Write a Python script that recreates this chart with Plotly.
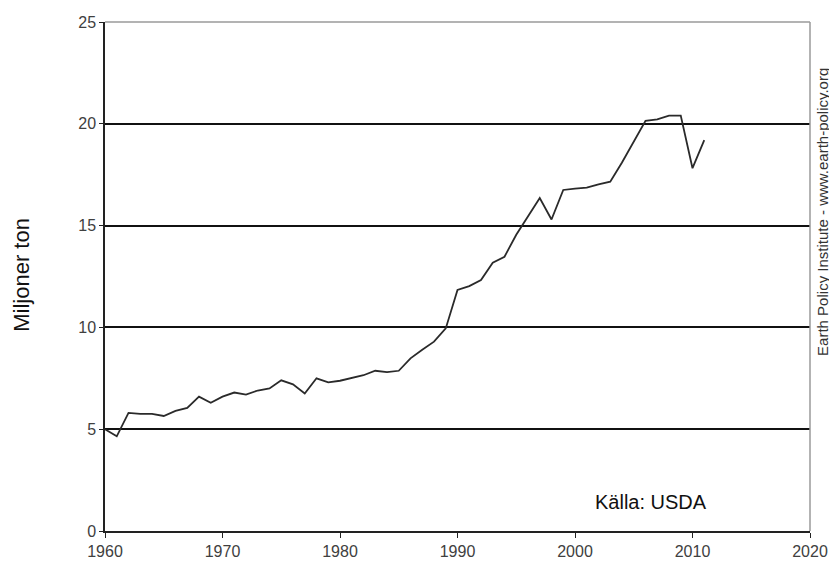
import plotly.graph_objects as go

# Years and production (miljoner ton)
years = list(range(1960, 2012))
values = [
    5.0, 4.65, 5.8, 5.75, 5.75, 5.65, 5.9, 6.05, 6.6, 6.3,
    6.6, 6.8, 6.7, 6.9, 7.0, 7.4, 7.2, 6.75, 7.5, 7.3,
    7.38, 7.5, 7.65, 7.87, 7.8, 7.87, 8.48, 8.9, 9.3, 9.95,
    11.84, 12.03, 12.33, 13.18, 13.47, 14.55, 15.45, 16.35, 15.3, 16.75,
    16.82, 16.86, 17.03, 17.16, 18.1, 19.1, 20.15, 20.22, 20.4, 20.4,
    17.82, 19.2,
]

x_ticks = [1960, 1970, 1980, 1990, 2000, 2010, 2020]
y_ticks = [0, 5, 10, 15, 20, 25]

fig = go.Figure()

fig.add_trace(go.Scatter(
    x=years,
    y=values,
    mode='lines',
    line=dict(color='#2a2a2a', width=1.8),
    showlegend=False,
    hoverinfo='x+y',
))

# gray frame on top and right side
fig.add_shape(type='line', xref='paper', yref='paper', x0=0, x1=1, y0=1, y1=1,
              line=dict(color='#9a9a9a', width=1.5), layer='above')
fig.add_shape(type='line', xref='paper', yref='paper', x0=1, x1=1, y0=0, y1=1,
              line=dict(color='#9a9a9a', width=1.5), layer='above')

fig.add_annotation(
    text='Källa: USDA', xref='paper', yref='paper', x=0.775, y=0.057,
    xanchor='center', yanchor='middle', showarrow=False,
    font=dict(family='Arial, Liberation Sans', size=20, color='#111111'),
)
fig.add_annotation(
    text='Earth Policy Institute - www.earth-policy.org', xref='paper', yref='paper',
    x=1.0185, y=0.627, xanchor='center', yanchor='middle', textangle=-90,
    showarrow=False,
    font=dict(family='Arial, Liberation Sans', size=15, color='#333333'),
)
# y axis title placed as annotation
fig.add_annotation(
    text='Miljoner ton', xref='paper', yref='paper',
    x=-0.118, y=0.503, xanchor='center', yanchor='middle', textangle=-90,
    showarrow=False,
    font=dict(family='Arial, Liberation Sans', size=22, color='#111111'),
)

# page body adds 8px; plot area spans x 105-810, y 22-531 in the window
fig.update_layout(
    width=829,
    height=555,
    margin=dict(l=97, r=27, t=14, b=32),
    paper_bgcolor='white',
    plot_bgcolor='white',
    font=dict(family='Arial, Liberation Sans', color='#333333'),
    xaxis=dict(
        range=[1960, 2020],
        tickvals=x_ticks,
        ticktext=[str(t) for t in x_ticks],
        showgrid=False,
        zeroline=False,
        showline=True,
        linecolor='#222222',
        linewidth=1.5,
        ticks='outside',
        ticklen=5,
        tickcolor='#222222',
        tickfont=dict(size=16, color='#404040'),
        automargin=False,
    ),
    yaxis=dict(
        range=[0, 25],
        tickvals=y_ticks,
        showgrid=True,
        gridcolor='#111111',
        gridwidth=1.5,
        zeroline=False,
        showline=True,
        linecolor='#222222',
        linewidth=1.5,
        ticks='outside',
        ticklen=4,
        tickcolor='#222222',
        tickfont=dict(size=16, color='#404040'),
        automargin=False,
    ),
)

fig.write_html("out.html")
